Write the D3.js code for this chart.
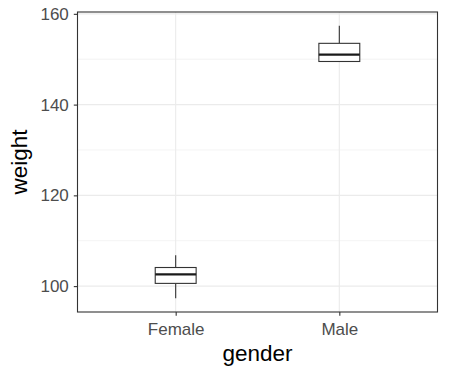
<!DOCTYPE html>
<html>
<head>
<meta charset="utf-8">
<script src="https://cdn.jsdelivr.net/npm/d3@7"></script>
<style>
  body { margin: 0; background: #fff; }
  text { font-family: "Liberation Sans", Arial, sans-serif; }
</style>
</head>
<body>
<svg id="chart"></svg>
<script>
// values
let genders = ['Female', 'Male']
let lowWhisker = [97.3, 149.4]
let q1 = [100.6, 149.5]
let medians = [102.6, 151.0]
let q3 = [104.1, 153.5]
let highWhisker = [106.8, 157.4]
let yTicks = [100, 120, 140, 160]
let yMinor = [110, 130, 150]

let width = 450,
    height = 375,
    panelLeft = 77.5,
    panelRight = 437.5,
    panelTop = 12,
    panelBottom = 312

let $svg = d3.select('#chart')
    .attr('width', width)
    .attr('height', height)

let data = genders.map((g, i) => {
    return {g: g, lo: lowWhisker[i], q1: q1[i], med: medians[i], q3: q3[i], hi: highWhisker[i]}
})

// discrete axis with 0.6 expansion like ggplot
let xScale = d3.scaleLinear()
    .domain([0.4, genders.length + 0.6])
    .range([panelLeft, panelRight])
let xPos = (g) => xScale(genders.indexOf(g) + 1)

let yMin = d3.min(lowWhisker), yMax = d3.max(highWhisker)
let pad = (yMax - yMin) * 0.05
let yScale = d3.scaleLinear()
    .domain([yMin - pad, yMax + pad])
    .range([panelBottom, panelTop])

// gridlines
let $grid = $svg.append('g')
$grid.selectAll('line.minor').data(yMinor).enter().append('line')
    .attr('x1', panelLeft).attr('x2', panelRight)
    .attr('y1', d => yScale(d)).attr('y2', d => yScale(d))
    .attr('stroke', '#EBEBEB').attr('stroke-width', 0.6)
$grid.selectAll('line.major').data(yTicks).enter().append('line')
    .attr('x1', panelLeft).attr('x2', panelRight)
    .attr('y1', d => yScale(d)).attr('y2', d => yScale(d))
    .attr('stroke', '#EBEBEB').attr('stroke-width', 1.1)
$grid.selectAll('line.vmajor').data(genders).enter().append('line')
    .attr('x1', d => xPos(d)).attr('x2', d => xPos(d))
    .attr('y1', panelTop).attr('y2', panelBottom)
    .attr('stroke', '#EBEBEB').attr('stroke-width', 1.1)

// boxes
let boxW = xScale(1.25) - xScale(1)
let $boxes = $svg.selectAll('g.box').data(data).enter().append('g')

$boxes.append('line')
    .attr('x1', d => xPos(d.g)).attr('x2', d => xPos(d.g))
    .attr('y1', d => yScale(d.hi)).attr('y2', d => yScale(d.q3))
    .attr('stroke', '#333333').attr('stroke-width', 1.1)
$boxes.append('line')
    .attr('x1', d => xPos(d.g)).attr('x2', d => xPos(d.g))
    .attr('y1', d => yScale(d.q1)).attr('y2', d => yScale(d.lo))
    .attr('stroke', '#333333').attr('stroke-width', 1.1)
$boxes.append('rect')
    .attr('x', d => xPos(d.g) - boxW / 2)
    .attr('y', d => yScale(d.q3))
    .attr('width', boxW)
    .attr('height', d => yScale(d.q1) - yScale(d.q3))
    .attr('fill', 'white')
    .attr('stroke', '#333333').attr('stroke-width', 1.1)
$boxes.append('line')
    .attr('x1', d => xPos(d.g) - boxW / 2).attr('x2', d => xPos(d.g) + boxW / 2)
    .attr('y1', d => yScale(d.med)).attr('y2', d => yScale(d.med))
    .attr('stroke', '#1a1a1a').attr('stroke-width', 2.2)

// panel border
$svg.append('rect')
    .attr('x', panelLeft).attr('y', panelTop)
    .attr('width', panelRight - panelLeft).attr('height', panelBottom - panelTop)
    .attr('fill', 'none')
    .attr('stroke', '#333333').attr('stroke-width', 1.1)

// axes
let yAxis = d3.axisLeft(yScale).tickValues(yTicks).tickSize(3.7).tickPadding(5)
let $ya = $svg.append('g').attr('transform', `translate(${panelLeft},0)`).call(yAxis)
let xAxis = d3.axisBottom(d3.scalePoint().domain(genders).range([xScale(1), xScale(2)]))
    .tickSize(3.7).tickPadding(7)
let $xa = $svg.append('g').attr('transform', `translate(0,${panelBottom})`).call(xAxis)

;[$ya, $xa].forEach($a => {
    $a.select('.domain').remove()
    $a.selectAll('.tick line').attr('stroke', '#333333').attr('stroke-width', 1.1)
    $a.selectAll('.tick text')
        .attr('fill', '#4D4D4D')
        .style('font-size', '17px')
        .style('font-family', '"Liberation Sans", Arial, sans-serif')
})

// axis titles
$svg.append('text')
    .attr('x', (panelLeft + panelRight) / 2).attr('y', 361)
    .attr('text-anchor', 'middle')
    .style('font-size', '22.5px')
    .text('gender')
$svg.append('text')
    .attr('transform', `translate(27,${(panelTop + panelBottom) / 2}) rotate(-90)`)
    .attr('text-anchor', 'middle')
    .style('font-size', '22.5px')
    .text('weight')
</script>
</body>
</html>
